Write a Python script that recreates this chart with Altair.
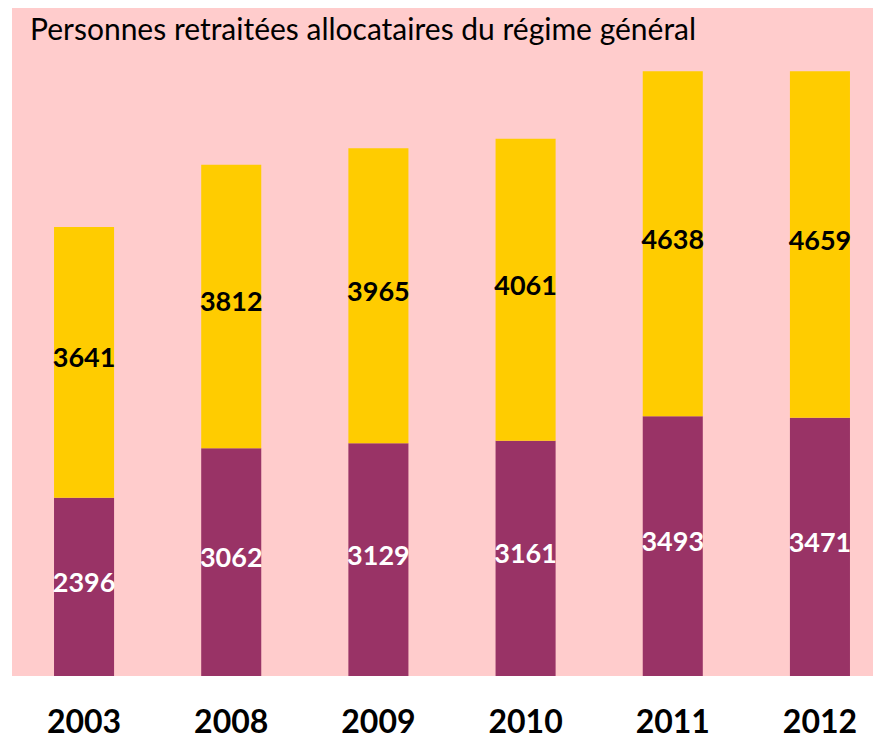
import altair as alt
import pandas as pd

years = ["2003", "2008", "2009", "2010", "2011", "2012"]
bas = [2396, 3062, 3129, 3161, 3493, 3471]
haut = [3641, 3812, 3965, 4061, 4638, 4659]
series = ["Partie basse", "Partie haute"]
bar_colors = ["#993366", "#FFCC00"]
label_colors = ["#FFFFFF", "#000000"]
title = "Personnes retraitées allocataires du régime général"

rows = []
for i, y in enumerate(years):
    rows.append({"year": y, "serie": series[0], "value": bas[i], "ord": 0, "lc": label_colors[0]})
    rows.append({"year": y, "serie": series[1], "value": haut[i], "ord": 1, "lc": label_colors[1]})
df = pd.DataFrame(rows)

FONT = "Lato"

xenc = alt.X(
    "year:N",
    sort=years,
    scale=alt.Scale(paddingInner=0.592, paddingOuter=0.221, align=0.646),
    axis=alt.Axis(
        title=None, labelAngle=0, labelFontSize=32, labelFont=FONT,
        labelFontWeight="bold", labelColor="#000000", ticks=False, domain=False,
        labelPadding=56, labelBaseline="alphabetic",
    ),
)

base = alt.Chart(df).transform_stack(
    stack="value", as_=["v0", "v1"], groupby=["year"], sort=[alt.SortField("ord")]
).transform_calculate(mid="(datum.v0 + datum.v1) / 2")

bars = base.mark_bar().encode(
    x=xenc,
    y=alt.Y("v0:Q", scale=alt.Scale(domain=[0, 8980], nice=False), axis=None),
    y2="v1:Q",
    color=alt.Color("serie:N", scale=alt.Scale(domain=series, range=bar_colors), legend=None),
)

labels = base.mark_text(font=FONT, fontSize=27, fontWeight="bold", dy=-3).encode(
    x=xenc,
    y=alt.Y("mid:Q"),
    text=alt.Text("value:Q", format="d"),
    color=alt.Color("lc:N", scale=None),
)

chart = alt.layer(bars, labels).resolve_scale(color="independent").properties(
    width=861,
    height=668,
    background="#FFFFFF",
    autosize=alt.AutoSizeParams(type="none"),
    padding={"left": 4, "top": 0, "right": 0, "bottom": 64},
    title=alt.TitleParams(
        title, font=FONT, fontSize=30, fontWeight="normal", color="#000000",
        anchor="start", dx=18, offset=-38,
    ),
).configure_view(fill="#FFCCCC", strokeWidth=0)

chart.save("out.html", embed_options={"renderer": "svg", "actions": False})
